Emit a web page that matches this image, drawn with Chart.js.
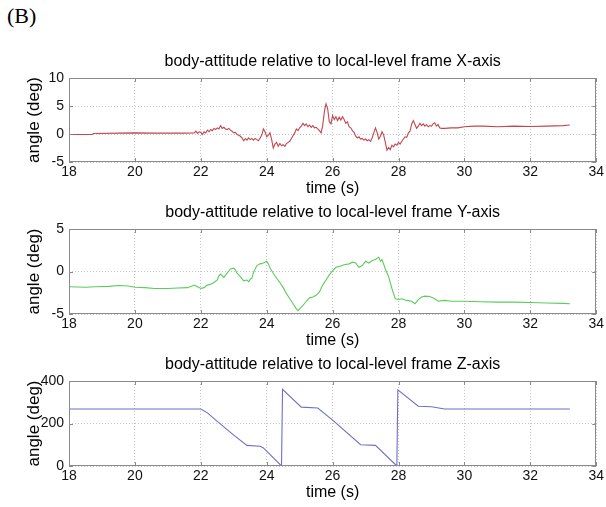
<!DOCTYPE html>
<html>
<head>
<meta charset="utf-8">
<script src="https://cdn.jsdelivr.net/npm/chart.js@4"></script>
<style>
    body { margin: 0; background: #fff; }
    #marco { position: relative; width: 606px; height: 507px; }
    #etiqueta { position: absolute; left: 7px; top: 3px; font-family: "Liberation Serif", serif; font-size: 22px; color: #000; }
    canvas { position: absolute; left: 0; }
</style>
</head>
<body>
<div id="marco">
    <div id="etiqueta">(B)</div>
    <canvas id="graficoX" width="606" height="150" style="top:48px"></canvas>
    <canvas id="graficoY" width="606" height="151" style="top:199px"></canvas>
    <canvas id="graficoZ" width="606" height="151" style="top:351px"></canvas>
</div>
<script>
const titulos = [
    'body-attitude relative to local-level frame X-axis',
    'body-attitude relative to local-level frame Y-axis',
    'body-attitude relative to local-level frame Z-axis'
];
const ticksTiempo = [18, 20, 22, 24, 26, 28, 30, 32, 34];
const ticksX = [-5, 0, 5, 10];
const ticksY = [-5, 0, 5];
const ticksZ = [0, 200, 400];

// Eje X (rojo)
const tiempoX = [18.0, 18.7, 18.75, 19.5, 20.0, 20.5, 21.0, 21.5, 21.8, 21.85, 21.9, 21.95, 22.0, 22.05, 22.1, 22.15, 22.2, 22.25, 22.3, 22.35,
    22.4, 22.45, 22.5, 22.55, 22.6, 22.65, 22.7, 22.75, 22.8, 22.85, 22.9, 22.95, 23.0, 23.05, 23.1, 23.15, 23.2, 23.25, 23.3, 23.35,
    23.4, 23.45, 23.5, 23.55, 23.6, 23.65, 23.7, 23.75, 23.8, 23.85, 23.9, 23.95, 24.0, 24.05, 24.1, 24.15, 24.2, 24.25, 24.3, 24.35,
    24.4, 24.45, 24.5, 24.55, 24.6, 24.65, 24.7, 24.75, 24.8, 24.85, 24.9, 24.95, 25.0, 25.05, 25.1, 25.15, 25.2, 25.25, 25.3, 25.35,
    25.4, 25.45, 25.5, 25.55, 25.6, 25.65, 25.7, 25.75, 25.8, 25.85, 25.9, 25.95, 26.0, 26.05, 26.1, 26.15, 26.2, 26.25, 26.3, 26.35,
    26.4, 26.45, 26.5, 26.55, 26.6, 26.65, 26.7, 26.75, 26.8, 26.85, 26.9, 26.95, 27.0, 27.05, 27.1, 27.15, 27.2, 27.25, 27.3, 27.35,
    27.4, 27.45, 27.5, 27.55, 27.6, 27.65, 27.7, 27.75, 27.8, 27.85, 27.9, 27.95, 28.0, 28.05, 28.1, 28.15, 28.2, 28.25, 28.3, 28.35,
    28.4, 28.45, 28.5, 28.55, 28.6, 28.65, 28.7, 28.75, 28.8, 28.85, 28.9, 28.95, 29.0, 29.05, 29.1, 29.15, 29.2, 29.25, 29.3, 29.4,
    29.6, 29.8, 30.0, 30.3, 30.6, 31.0, 31.5, 32.0, 32.5, 33.0, 33.2];
const anguloX = [-0.1, -0.1, 0.1, 0.15, 0.2, 0.15, 0.15, 0.15, 0.2, 0.5, 0.1, 0.4, 0.3, -0.1, 0.4, 0.2, 0.7, 0.4, 0.8, 0.6,
    1.0, 0.8, 1.1, 0.9, 1.5, 1.0, 1.2, 0.9, 0.8, 1.0, 0.7, 0.5, 0.2, 0.3, -0.1, -0.2, -0.4, -0.7, -1.2, -0.8,
    -1.1, -0.7, -1.0, -0.8, -1.1, -0.8, -1.0, -1.2, -0.7, -0.2, 0.9, 0.4, -0.5, -0.2, 0.2, -1.0, -2.5, -1.8, -1.5, -2.2,
    -1.7, -2.1, -1.9, -2.2, -1.7, -1.5, -1.3, -0.8, -0.3, 0.2, 0.9, 0.6, 1.1, 1.4, 1.9, 1.5, 1.8, 1.3, 1.6, 1.2,
    1.5, 1.1, 1.2, 0.9, 0.6, 0.2, 1.5, 4.0, 5.4, 4.5, 2.2, 1.8, 3.3, 2.6, 3.1, 2.4, 3.0, 2.5, 3.1, 2.6,
    1.9, 2.2, 1.3, 1.1, 0.6, 0.3, -0.4, -0.7, -0.5, -0.9, -0.8, -1.1, -0.9, -1.2, -1.0, -1.3, -0.7, 0.2, 1.1, 0.3,
    -0.9, -0.4, 0.4, -0.2, -1.5, -2.9, -2.4, -2.8, -2.0, -2.3, -1.8, -2.0, -1.5, -1.8, -1.3, -0.9, -0.5, -0.6, 0.2, 0.5,
    1.8, 2.4, 1.7, 1.0, 1.4, 1.9, 1.5, 1.8, 1.4, 1.7, 1.3, 1.5, 1.4, 1.8, 2.0, 1.4, 1.7, 1.1, 1.0, 1.0,
    1.1, 1.1, 1.3, 1.4, 1.4, 1.3, 1.4, 1.35, 1.4, 1.5, 1.6];

// Eje Y (verde)
const tiempoY = [18.0, 18.5, 18.8, 19.2, 19.5, 19.8, 20.0, 20.3, 20.6, 21.0, 21.3, 21.6, 21.8, 21.9, 22.0, 22.1, 22.2, 22.3, 22.4, 22.5,
    22.55, 22.6, 22.7, 22.8, 22.9, 23.0, 23.05, 23.1, 23.2, 23.3, 23.4, 23.45, 23.5, 23.55, 23.6, 23.7, 23.8, 23.9, 24.0, 24.05,
    24.1, 24.2, 24.3, 24.4, 24.5, 24.6, 24.7, 24.8, 24.9, 24.95, 25.0, 25.1, 25.2, 25.3, 25.4, 25.5, 25.6, 25.7, 25.8, 25.9,
    26.0, 26.1, 26.2, 26.35, 26.5, 26.6, 26.7, 26.8, 26.9, 27.0, 27.1, 27.2, 27.3, 27.4, 27.45, 27.5, 27.6, 27.7, 27.8, 27.9,
    28.0, 28.1, 28.25, 28.4, 28.5, 28.6, 28.7, 28.8, 28.95, 29.1, 29.2, 29.4, 29.6, 30.0, 30.5, 31.0, 31.5, 32.0, 32.5, 33.0, 33.2];
const anguloY = [-1.8, -1.85, -1.8, -1.75, -1.65, -1.7, -1.85, -1.9, -2.0, -2.0, -1.95, -1.9, -1.6, -1.8, -2.0, -1.9, -1.6, -1.5, -1.3, -1.0,
    -0.5, -0.3, -0.7, -0.2, 0.3, 0.4, 0.2, -0.2, -0.6, -1.1, -1.0, -1.2, -0.9, -0.8, -0.1, 0.7, 0.9, 1.0, 1.2, 0.9,
    0.4, -0.2, -0.8, -1.3, -1.9, -2.6, -3.2, -3.8, -4.4, -4.6, -4.4, -4.0, -3.5, -3.1, -3.0, -2.8, -2.4, -1.6, -1.0, -0.4,
    0.1, 0.5, 0.6, 0.8, 0.9, 1.1, 1.0, 0.5, 0.7, 1.2, 1.0, 1.3, 1.4, 1.7, 1.2, 1.4, 0.3, -0.6, -2.0, -3.2,
    -3.3, -3.2, -3.4, -3.5, -3.8, -3.3, -3.0, -2.9, -2.95, -3.2, -3.5, -3.4, -3.5, -3.5, -3.55, -3.6, -3.6, -3.65, -3.7, -3.75, -3.8];

// Eje Z (azul)
const tiempoZ = [18.0, 22.0, 22.2, 22.5, 23.0, 23.4, 23.8, 23.9, 24.45, 24.48, 25.05, 25.55, 26.0, 26.85, 27.3, 27.95, 27.98, 28.6, 29.0, 29.4, 33.2];
const anguloZ = [268, 268, 250, 210, 145, 97, 93, 85, 0, 361, 277, 273, 216, 100, 97, 0, 358, 281, 279, 268, 268];

// Caja del eje y marcas hacia adentro (estilo matlab)
const cajaEjes = {
    id: 'cajaEjes',
    afterDraw(chart) {
        const { ctx, chartArea: a, scales } = chart;
        ctx.save();
        ctx.strokeStyle = '#8a8a8a';
        ctx.lineWidth = 1;
        ctx.strokeRect(Math.round(a.left) + 0.5, Math.round(a.top) + 0.5, Math.round(a.width) - 1, Math.round(a.height) - 1);
        ctx.beginPath();
        scales.x.ticks.forEach(t => {
            const px = Math.round(scales.x.getPixelForValue(t.value)) + 0.5;
            ctx.moveTo(px, a.bottom); ctx.lineTo(px, a.bottom - 4);
            ctx.moveTo(px, a.top); ctx.lineTo(px, a.top + 4);
        });
        scales.y.ticks.forEach(t => {
            const py = Math.round(scales.y.getPixelForValue(t.value)) + 0.5;
            ctx.moveTo(a.left, py); ctx.lineTo(a.left + 4, py);
            ctx.moveTo(a.right, py); ctx.lineTo(a.right - 4, py);
        });
        ctx.stroke();
        ctx.restore();
    }
};

function crearGrafico(idCanvas, tiempos, angulos, color, titulo, ticksAngulo) {
    const canvas = document.getElementById(idCanvas);
    const ctx = canvas.getContext('2d');
    const puntos = tiempos.map((t, i) => ({ x: t, y: angulos[i] }));

    return new Chart(ctx, {
        type: 'line',
        data: {
            datasets: [{
                data: puntos,
                borderColor: color,
                borderWidth: 1.1,
                pointRadius: 0,
                tension: 0
            }]
        },
        options: {
            responsive: false,
            animation: false,
            layout: { padding: { left: 0, right: 9, top: 0, bottom: 0 } },
            plugins: {
                legend: { display: false },
                tooltip: { enabled: false },
                title: {
                    display: true,
                    fullSize: false, // centrado sobre el area del grafico
                    text: titulo,
                    color: '#000',
                    font: { family: 'Liberation Sans, Arial, sans-serif', size: 16, weight: 'normal' },
                    padding: { top: 4.4, bottom: 6.4 }
                }
            },
            scales: {
                x: {
                    type: 'linear',
                    min: ticksTiempo[0],
                    max: ticksTiempo[ticksTiempo.length - 1],
                    afterBuildTicks: eje => { eje.ticks = ticksTiempo.map(v => ({ value: v })); },
                    afterFit: eje => { eje.height = 36; },
                    grid: { color: '#c4c4c4', drawTicks: false },
                    border: { display: false, dash: [1, 2] },
                    ticks: {
                        color: '#111',
                        padding: 2,
                        maxRotation: 0,
                        font: { family: 'Liberation Sans, Arial, sans-serif', size: 14 }
                    },
                    title: {
                        display: true,
                        text: 'time (s)',
                        color: '#000',
                        padding: { top: 0, bottom: 0 },
                        font: { family: 'Liberation Sans, Arial, sans-serif', size: 16 }
                    }
                },
                y: {
                    min: ticksAngulo[0],
                    max: ticksAngulo[ticksAngulo.length - 1],
                    afterBuildTicks: eje => { eje.ticks = ticksAngulo.map(v => ({ value: v })); },
                    afterFit: eje => { eje.width = 69; },
                    grid: { color: '#c4c4c4', drawTicks: false },
                    border: { display: false, dash: [1, 2] },
                    ticks: {
                        color: '#111',
                        padding: 5,
                        font: { family: 'Liberation Sans, Arial, sans-serif', size: 14 }
                    },
                    title: {
                        display: true,
                        text: 'angle (deg)',
                        color: '#000',
                        padding: { top: 24, bottom: 0 },
                        font: { family: 'Liberation Sans, Arial, sans-serif', size: 17 }
                    }
                }
            }
        },
        plugins: [cajaEjes]
    });
}

crearGrafico('graficoX', tiempoX, anguloX, 'rgb(196, 70, 80)', titulos[0], ticksX);
crearGrafico('graficoY', tiempoY, anguloY, 'rgb(90, 205, 90)', titulos[1], ticksY);
crearGrafico('graficoZ', tiempoZ, anguloZ, 'rgb(110, 110, 205)', titulos[2], ticksZ);
</script>
</body>
</html>
